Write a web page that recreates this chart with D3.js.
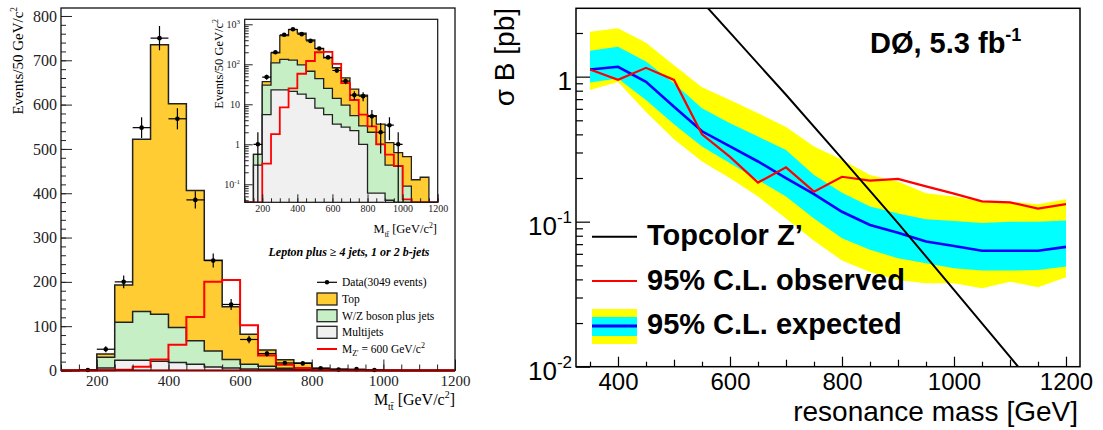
<!DOCTYPE html>
<html><head><meta charset="utf-8">
<script src="https://cdn.jsdelivr.net/npm/d3@7"></script>
<style>body{margin:0;background:#fff} svg{display:block}</style>
</head><body>
<svg id="c" width="1103" height="430"></svg>
<script>
// ================= DATA =================
// Left: M_tt histogram, 50 GeV bins (lower edges)
const binLow = [100,150,200,250,300,350,400,450,500,550,600,650,700,750,800,850,900,950,1000,1050,1100,1150];
const binWidth = 50;
const multijet = [0,0.3,5.5,23,23,21,18,14,8,5.5,3.2,2.7,2.2,1.0,0.06,0.06,0.04,0,0,0,0,0];
const wjets    = [0,0.26,24.5,86,110,106,79,53,36,19.5,10.8,6.8,3.0,1.9,1.94,0.94,0.26,0.28,0.09,0,0,0];
const topQuark = [0,0,7,84,389,608,505,339,205,119,68,36.5,18.8,14.1,3.2,2.2,0.8,0.34,0.4,0.13,0.15,0];
const zprime600 = [0,0,0.33,1.8,8.4,25,58,121,200,204,102,34,12.8,5.5,2.8,1.0,0.55,0.29,0.042,0,0,0];
const dataCenter = [175,225,275,325,375,425,475,525,575,625,675,725,775,825,875,925,975];
const dataCount  = [1,48,200,548,750,568,385,248,149,70,38,17,16,5,2,3,1];
const leftXTicks = [200,400,600,800,1000,1200];
const leftYTicks = [0,100,200,300,400,500,600,700,800];
const insetYTicks = [0.1,1,10,100,1000];
const insetYLabels = [["10","-1"],["1",""],["10",""],["10","2"],["10","3"]];

// Right: limits vs resonance mass
const mass = [350,400,450,500,550,600,650,700,750,800,850,900,950,1000,1050,1100,1150,1200];
const expected = [1.12,1.17,0.92,0.62,0.42,0.33,0.26,0.20,0.155,0.117,0.095,0.084,0.073,0.068,0.063,0.063,0.063,0.067];
const observed = [1.12,0.95,1.15,0.95,0.40,0.28,0.186,0.237,0.161,0.204,0.192,0.197,0.175,0.156,0.138,0.136,0.123,0.132];
const exp1Up = [1.51,1.61,1.27,0.90,0.605,0.477,0.386,0.312,0.21,0.158,0.127,0.114,0.104,0.101,0.098,0.100,0.100,0.102];
const exp1Dn = [0.91,0.97,0.69,0.47,0.33,0.253,0.194,0.149,0.105,0.077,0.064,0.056,0.0516,0.0477,0.046,0.046,0.0465,0.049];
const exp2Up = [2.04,2.16,1.71,1.20,0.845,0.69,0.56,0.45,0.33,0.267,0.21,0.189,0.157,0.149,0.137,0.137,0.132,0.143];
const exp2Dn = [0.81,0.92,0.57,0.37,0.26,0.199,0.149,0.105,0.074,0.054,0.045,0.0396,0.0376,0.0376,0.0347,0.0386,0.0353,0.0414];
const topcolorMass = [550,600,700,800,900,1000,1100,1150];
const topcolorXsec = [3.29,2.01,0.75,0.272,0.0977,0.0339,0.0117,0.0068];
const rightXTicks = [400,600,800,1000,1200];
const rightYTicks = [0.01,0.1,1];
const rightYLabels = [["10","-2"],["10","-1"],["1",""]];

// ================= DRAW =================
const SERIF = "'Liberation Serif','Times New Roman',serif";
const SANS = "'Liberation Sans',Arial,Helvetica,sans-serif";
const svg = d3.select('#c');
const fmtInt = d3.format('d');

function stepPath(vals, x, y, base){
  const p = [];
  vals.forEach((v,i)=>{ p.push([x(binLow[i]), y(v)]); p.push([x(binLow[i]+binWidth), y(v)]); });
  return d3.line()([[p[0][0], base], ...p, [p[p.length-1][0], base]]);
}
const rows = binLow.map((b,i)=>({lo:b, multijet:multijet[i], wjets:wjets[i], top:topQuark[i]}));
const stacked = d3.stack().keys(['multijet','wjets','top'])(rows);
const fills = ['#f0f0f0','#c6efc6','#ffcc33'];

function massTitle(g, x, y, size){
  const t = g.append('text').attr('x',x).attr('y',y).attr('text-anchor','end')
    .attr('font-family',SERIF).attr('font-size',size).attr('fill','#000');
  t.append('tspan').text('M');
  t.append('tspan').attr('font-size',size*0.62).attr('dy',size*0.32).text('tt\u0304');
  t.append('tspan').attr('dy',-size*0.32).text(' [GeV/c');
  t.append('tspan').attr('font-size',size*0.62).attr('dy',-size*0.42).text('2');
  t.append('tspan').attr('dy',size*0.42).text(']');
}
function evTitle(g, x, y, size){
  const t = g.append('text').attr('transform',`translate(${x},${y}) rotate(-90)`).attr('text-anchor','end')
    .attr('font-family',SERIF).attr('font-size',size).attr('fill','#000');
  t.append('tspan').text('Events/50 GeV/c');
  t.append('tspan').attr('font-size',size*0.62).attr('dy',-size*0.42).text('2');
}

// ---------- Left main ----------
const xL = d3.scaleLinear([100,1200],[61,455]);
const yL = d3.scaleLinear([0,818],[370.5,8]);
const gL = svg.append('g');
for (let k=2;k>=0;k--){
  gL.append('path').attr('d', stepPath(stacked[k].map(d=>d[1]), xL, yL, yL(0)))
    .attr('fill', fills[k]).attr('stroke','#222').attr('stroke-width',1.5);
}
gL.append('path').attr('d', stepPath(zprime600, xL, yL, yL(0)))
  .attr('fill','none').attr('stroke','#ff0000').attr('stroke-width',2);

function drawData(g, x, y){
  const sel = g.append('g').selectAll('g').data(dataCenter.map((c,i)=>({c, n:dataCount[i]}))).join('g');
  sel.append('line').attr('x1',d=>x(d.c)).attr('x2',d=>x(d.c))
    .attr('y1',d=>y(d.n-Math.sqrt(d.n))).attr('y2',d=>y(d.n+Math.sqrt(d.n)))
    .attr('stroke','#000').attr('stroke-width',1.2);
  sel.append('line').attr('x1',d=>x(d.c-binWidth/2)).attr('x2',d=>x(d.c+binWidth/2))
    .attr('y1',d=>y(d.n)).attr('y2',d=>y(d.n)).attr('stroke','#000').attr('stroke-width',1.2);
  sel.append('circle').attr('cx',d=>x(d.c)).attr('cy',d=>y(d.n)).attr('r',2.3).attr('fill','#000');
}
drawData(gL, xL, yL);

// axes
gL.append('g').attr('transform','translate(61,0)')
  .call(d3.axisLeft(yL).tickValues(d3.range(0,818,20)).tickSize(-5).tickSizeOuter(0).tickFormat(''))
  .call(g=>g.select('.domain').remove());
gL.append('g').attr('transform','translate(61,0)')
  .call(d3.axisLeft(yL).tickValues(leftYTicks).tickSize(-11).tickSizeOuter(0).tickPadding(4).tickFormat(fmtInt))
  .call(g=>g.select('.domain').remove())
  .call(g=>g.selectAll('text').attr('font-family',SERIF).attr('font-size',16).attr('fill','#222'));
gL.append('g').attr('transform','translate(0,370.5)')
  .call(d3.axisBottom(xL).tickValues(d3.range(100,1201,50)).tickSize(-6).tickSizeOuter(0).tickFormat(''))
  .call(g=>g.select('.domain').remove());
gL.append('g').attr('transform','translate(0,370.5)')
  .call(d3.axisBottom(xL).tickValues(leftXTicks).tickSize(-11).tickSizeOuter(0).tickPadding(5).tickFormat(fmtInt))
  .call(g=>g.select('.domain').remove())
  .call(g=>g.selectAll('text').attr('font-family',SERIF).attr('font-size',15).attr('fill','#222'));
gL.selectAll('.tick line').attr('stroke','#222');
gL.append('rect').attr('x',61).attr('y',8).attr('width',394).attr('height',362.5)
  .attr('fill','none').attr('stroke','#111').attr('stroke-width',1.3);
gL.append('line').attr('x1',61).attr('x2',455).attr('y1',370.5).attr('y2',370.5).attr('stroke','#8b0000').attr('stroke-width',2);

evTitle(gL, 23, 7, 15);
massTitle(gL, 455, 405, 16);

gL.append('text').attr('x',349).attr('y',256).attr('text-anchor','middle')
  .attr('font-family',SERIF).attr('font-size',12).attr('font-weight','bold').attr('font-style','italic')
  .text('Lepton plus \u2265 4 jets, 1 or 2 b-jets');

// legend
const legL = gL.append('g').attr('font-family',SERIF).attr('font-size',11.5);
const legRows = [282.3, 299, 315.7, 332.3, 349];
legL.append('line').attr('x1',317).attr('x2',337).attr('y1',legRows[0]).attr('y2',legRows[0]).attr('stroke','#000').attr('stroke-width',1.2);
legL.append('circle').attr('cx',327).attr('cy',legRows[0]).attr('r',2.2);
[2,1,0].forEach((k,j)=>{
  legL.append('rect').attr('x',317).attr('y',legRows[j+1]-6).attr('width',20).attr('height',12)
    .attr('fill',fills[k]).attr('stroke','#222').attr('stroke-width',1.3);
});
legL.append('line').attr('x1',317).attr('x2',337).attr('y1',legRows[4]).attr('y2',legRows[4]).attr('stroke','#ff0000').attr('stroke-width',2);
const legTexts = ['Data(3049 events)','Top','W/Z boson plus jets','Multijets'];
legTexts.forEach((t,i)=>legL.append('text').attr('x',342).attr('y',legRows[i]+4).text(t));
{
  const t = legL.append('text').attr('x',342).attr('y',legRows[4]+4);
  t.append('tspan').text('M');
  t.append('tspan').attr('font-size',8).attr('dy',3).text("Z'");
  t.append('tspan').attr('dy',-3).text(' = 600 GeV/c');
  t.append('tspan').attr('font-size',8).attr('dy',-5).text('2');
}

// ---------- Inset ----------
const xI = d3.scaleLinear([100,1200],[244.7,437.7]);
const yI = d3.scaleLog([0.0355,1334],[202.3,19.3]);
const yIc = v => yI(Math.max(v, 0.0355));
const gI = svg.append('g');
gI.append('rect').attr('x',244.7).attr('y',19.3).attr('width',193).attr('height',183).attr('fill','#fff');
svg.append('clipPath').attr('id','clipI').append('rect').attr('x',244.7).attr('y',19.3).attr('width',193).attr('height',183);
const gIc = gI.append('g').attr('clip-path','url(#clipI)');
for (let k=2;k>=0;k--){
  gIc.append('path').attr('d', stepPath(stacked[k].map(d=>d[1]), xI, yIc, yI(0.0355)))
    .attr('fill', fills[k]).attr('stroke','#222').attr('stroke-width',1.3);
}
gIc.append('path').attr('d', stepPath(zprime600, xI, yIc, yI(0.0355)))
  .attr('fill','none').attr('stroke','#ff0000').attr('stroke-width',1.8);
drawData(gIc, xI, yIc);

const minorI = [];
[0.01,0.1,1,10,100].forEach(d=>{ for(let k=2;k<=9;k++){ const v=k*d; if(v>0.0355 && v<1334) minorI.push(v);} });
gI.append('g').attr('transform','translate(244.7,0)')
  .call(d3.axisLeft(yI).tickValues(minorI).tickSize(-4).tickSizeOuter(0).tickFormat(''))
  .call(g=>g.select('.domain').remove());
gI.append('g').attr('transform','translate(244.7,0)')
  .call(d3.axisLeft(yI).tickValues(insetYTicks).tickSize(-8).tickSizeOuter(0).tickFormat(''))
  .call(g=>g.select('.domain').remove());
gI.append('g').attr('transform','translate(0,202.3)')
  .call(d3.axisBottom(xI).tickValues(d3.range(100,1201,50)).tickSize(-4).tickSizeOuter(0).tickFormat(''))
  .call(g=>g.select('.domain').remove());
gI.append('g').attr('transform','translate(0,202.3)')
  .call(d3.axisBottom(xI).tickValues(leftXTicks).tickSize(-8).tickSizeOuter(0).tickPadding(3).tickFormat(fmtInt))
  .call(g=>g.select('.domain').remove())
  .call(g=>g.selectAll('text').attr('font-family',SERIF).attr('font-size',10).attr('fill','#222'));
gI.selectAll('.tick line').attr('stroke','#222');
insetYTicks.forEach((v,i)=>{
  const t = gI.append('text').attr('x',240).attr('y',yI(v)+3.5).attr('text-anchor','end')
    .attr('font-family',SERIF).attr('font-size',10).attr('fill','#222');
  t.append('tspan').text(insetYLabels[i][0]);
  if (insetYLabels[i][1]) t.append('tspan').attr('font-size',7).attr('dy',-4).text(insetYLabels[i][1]);
});
gI.append('rect').attr('x',244.7).attr('y',19.3).attr('width',193).attr('height',183)
  .attr('fill','none').attr('stroke','#111').attr('stroke-width',1.2);
evTitle(gI, 223, 19, 12.5);
massTitle(gI, 437, 233, 12.5);

// ---------- Right panel ----------
const xR = d3.scaleLinear([325,1225],[576,1080]);
const yR = d3.scaleLog([0.01,2.96],[366.7,8.3]);
const gR = svg.append('g');
svg.append('clipPath').attr('id','clipR').append('rect').attr('x',576).attr('y',8.3).attr('width',504).attr('height',358.4);
const gRc = gR.append('g').attr('clip-path','url(#clipR)');
const bandData = mass.map((m,i)=>({m, e:expected[i], o:observed[i], u1:exp1Up[i], d1:exp1Dn[i], u2:exp2Up[i], d2:exp2Dn[i]}));
gRc.append('path').datum(bandData).attr('fill','#ffff00')
  .attr('d', d3.area().x(d=>xR(d.m)).y0(d=>yR(d.d2)).y1(d=>yR(d.u2)));
gRc.append('path').datum(bandData).attr('fill','#00ffff')
  .attr('d', d3.area().x(d=>xR(d.m)).y0(d=>yR(d.d1)).y1(d=>yR(d.u1)));
gRc.append('path').datum(bandData).attr('fill','none').attr('stroke','#0000ff').attr('stroke-width',2.6)
  .attr('d', d3.line().x(d=>xR(d.m)).y(d=>yR(d.e)));
gRc.append('path').datum(bandData).attr('fill','none').attr('stroke','#ff0000').attr('stroke-width',2.2)
  .attr('d', d3.line().x(d=>xR(d.m)).y(d=>yR(d.o)));
gRc.append('path').datum(topcolorMass.map((m,i)=>[m, topcolorXsec[i]])).attr('fill','none')
  .attr('stroke','#000').attr('stroke-width',2)
  .attr('d', d3.line().x(d=>xR(d[0])).y(d=>yR(d[1])));

const minorR = [];
[0.01,0.1,1].forEach(d=>{ for(let k=2;k<=9;k++){ const v=k*d; if(v<2.96) minorR.push(v);} });
gR.append('g').attr('transform','translate(576,0)')
  .call(d3.axisLeft(yR).tickValues(minorR).tickSize(-7).tickSizeOuter(0).tickFormat(''))
  .call(g=>g.select('.domain').remove());
gR.append('g').attr('transform','translate(576,0)')
  .call(d3.axisLeft(yR).tickValues(rightYTicks).tickSize(-14).tickSizeOuter(0).tickFormat(''))
  .call(g=>g.select('.domain').remove());
gR.append('g').attr('transform','translate(0,366.7)')
  .call(d3.axisBottom(xR).tickValues([350,450,550,650,750,850,950,1050,1150]).tickSize(-5).tickSizeOuter(0).tickFormat(''))
  .call(g=>g.select('.domain').remove());
gR.append('g').attr('transform','translate(0,366.7)')
  .call(d3.axisBottom(xR).tickValues([500,700,900,1100]).tickSize(-7).tickSizeOuter(0).tickFormat(''))
  .call(g=>g.select('.domain').remove());
gR.append('g').attr('transform','translate(0,366.7)')
  .call(d3.axisBottom(xR).tickValues(rightXTicks).tickSize(-10).tickSizeOuter(0).tickPadding(6).tickFormat(fmtInt))
  .call(g=>g.select('.domain').remove())
  .call(g=>g.selectAll('text').attr('font-family',SANS).attr('font-size',24).attr('fill','#000'));
gR.selectAll('.tick line').attr('stroke','#000').attr('stroke-width',1.2);
rightYTicks.forEach((v,i)=>{
  const t = gR.append('text').attr('x',572).attr('y',yR(v)+13.5).attr('text-anchor','end')
    .attr('font-family',SANS).attr('font-size',26).attr('fill','#000');
  t.append('tspan').text(rightYLabels[i][0]);
  if (rightYLabels[i][1]) t.append('tspan').attr('font-size',17).attr('dy',-12).text(rightYLabels[i][1]);
});
gR.append('rect').attr('x',576).attr('y',8.3).attr('width',504).attr('height',358.4)
  .attr('fill','none').attr('stroke','#000').attr('stroke-width',1.5);

gR.append('text').attr('transform','translate(514,8) rotate(-90)').attr('text-anchor','end')
  .attr('font-family',SANS).attr('font-size',28).attr('fill','#000').text('\u03c3 B [pb]');
gR.append('text').attr('x',1078).attr('y',421).attr('text-anchor','end')
  .attr('font-family',SANS).attr('font-size',28).attr('fill','#000').text('resonance mass [GeV]');
{
  const t = gR.append('text').attr('x',870).attr('y',53).attr('font-family',SANS).attr('font-size',29)
    .attr('font-weight','bold').attr('fill','#000');
  t.append('tspan').text('D\u00d8, 5.3 fb');
  t.append('tspan').attr('font-size',18).attr('dy',-12).text('-1');
}
// legend
const legR = gR.append('g');
legR.append('line').attr('x1',592).attr('x2',637).attr('y1',236.7).attr('y2',236.7).attr('stroke','#000').attr('stroke-width',2);
legR.append('line').attr('x1',592).attr('x2',637).attr('y1',281).attr('y2',281).attr('stroke','#ff0000').attr('stroke-width',2.2);
legR.append('rect').attr('x',592).attr('y',309).attr('width',45).attr('height',35).attr('fill','#ffff00');
legR.append('rect').attr('x',592).attr('y',317).attr('width',45).attr('height',19).attr('fill','#00ffff');
legR.append('line').attr('x1',592).attr('x2',637).attr('y1',326).attr('y2',326).attr('stroke','#0000ff').attr('stroke-width',3);
const legRTexts = ['Topcolor Z\u2019','95% C.L. observed','95% C.L. expected'];
const legRY = [245, 289.5, 333.5];
legRTexts.forEach((s,i)=>legR.append('text').attr('x',647).attr('y',legRY[i]).attr('font-family',SANS)
  .attr('font-size',29).attr('font-weight','bold').attr('fill','#000').text(s));
</script>
</body></html>
